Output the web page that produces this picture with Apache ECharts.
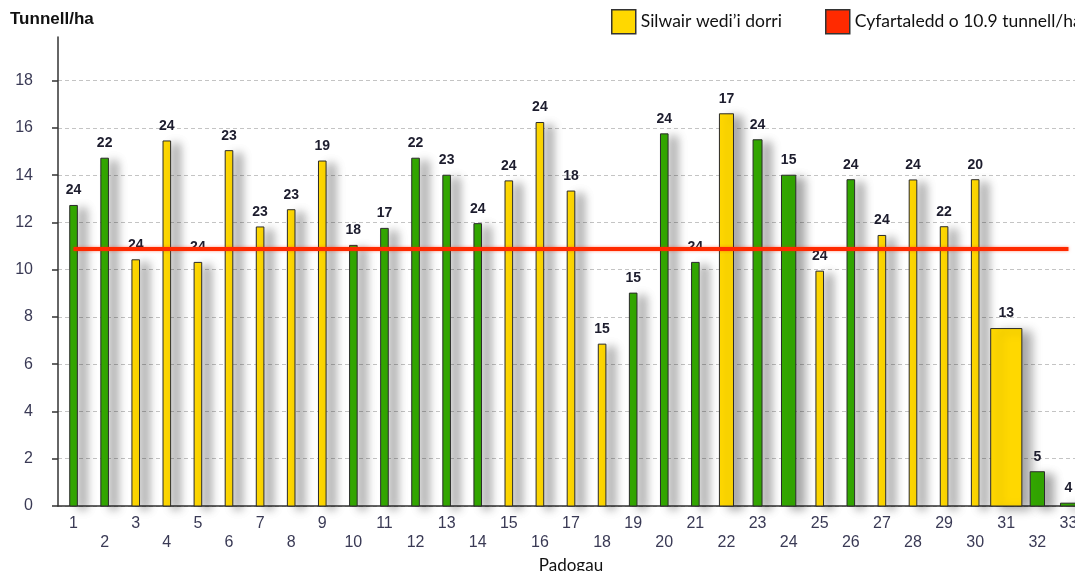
<!DOCTYPE html>
<html>
<head>
<meta charset="utf-8">
<script src="https://cdn.jsdelivr.net/npm/echarts@6/dist/echarts.min.js"></script>
<style>
  html, body { margin: 0; padding: 0; background: #fff; }
  #chart { width: 1075px; height: 571px; }
</style>
</head>
<body>
<div id="chart"></div>
<script>
// ---- Data ----
const paddocks = ['1','2','3','4','5','6','7','8','9','10','11','12','13','14','15','16','17','18','19','20','21','22','23','24','25','26','27','28','29','30','31','32','33'];
const yieldTha = [12.72,14.72,10.42,15.45,10.31,15.04,11.81,12.54,14.60,11.03,11.75,14.72,14.00,11.95,13.76,16.23,13.33,6.85,9.01,15.75,10.31,16.60,15.50,14.00,9.94,13.81,11.45,13.80,11.82,13.81,7.51,1.45,0.12];
const cutForSilage = [0,0,1,1,1,1,1,1,1,0,0,0,0,0,1,1,1,1,0,0,0,1,0,0,1,0,1,1,1,1,1,0,0];
const barLabels = [24,22,24,24,24,23,23,23,19,18,17,22,23,24,24,24,18,15,15,24,24,17,24,15,24,24,24,24,22,20,13,5,4];
const paddockSize = [1,1,1,1,1,1,1,1,1,1,1,1,1,1,1,1,1,1,1,1,1,1.85,1.18,1.88,1,1,1,1,1,1,4.1,1.88,2.1];
const average = 10.9;
const yTicks = [0,2,4,6,8,10,12,14,16,18];

const legendCut = "Silwair wedi\u2019i dorri";
const legendAvg = "Cyfartaledd o 10.9 tunnell/ha";
const yTitle = "Tunnell/ha";
const xTitle = "Padogau";

// ---- Styles ----
const YELLOW = '#ffd800';
const GREEN = '#33a800';
const RED = '#ff2a00';
const FONT = "'Liberation Sans', Arial, sans-serif";
const SIZE_FACTOR = 0.2445;

const chart = echarts.init(document.getElementById('chart'), null, { renderer: 'canvas' });

const barData = yieldTha.map((v, i) => [i, v, paddockSize[i], barLabels[i], cutForSilage[i]]);

function renderBar(params, api) {
  const idx = api.value(0);
  const val = api.value(1);
  const size = api.value(2);
  const lab = api.value(3);
  const cut = api.value(4);
  const top = api.coord([idx, val]);
  const base = api.coord([idx, 0]);
  const band = api.size([1, 0])[0];
  const bw = size * band * SIZE_FACTOR;
  return {
    type: 'group',
    children: [
      {
        type: 'rect',
        shape: { x: top[0] - bw / 2, y: top[1], width: bw, height: base[1] - top[1] },
        style: {
          fill: cut ? YELLOW : GREEN,
          stroke: '#2a2a2a',
          lineWidth: 1,
          shadowColor: 'rgba(0,0,0,0.35)',
          shadowBlur: 10,
          shadowOffsetX: 9,
          shadowOffsetY: 3
        }
      },
      {
        type: 'text',
        style: {
          text: String(lab),
          x: top[0],
          y: top[1] - 15,
          align: 'center',
          verticalAlign: 'middle',
          font: 'bold 14px ' + FONT,
          fill: '#1d1d2e'
        }
      }
    ]
  };
}

const option = {
  backgroundColor: '#ffffff',
  animation: false,
  title: {
    text: yTitle,
    left: 5,
    top: 6,
    textStyle: { fontFamily: FONT, fontWeight: 'bold', fontSize: 17, color: '#111' }
  },
  legend: [
    {
      data: [{ name: legendCut, icon: 'rect', itemStyle: { color: YELLOW, borderColor: '#333', borderWidth: 1.5 } }],
      left: 606, top: 4,
      itemWidth: 24, itemHeight: 24,
      textStyle: { fontFamily: 'Lato, ' + FONT, fontSize: 17.5, color: '#111' },
      selectedMode: false
    },
    {
      data: [{ name: legendAvg, icon: 'rect', itemStyle: { color: RED, borderColor: '#333', borderWidth: 1.5 } }],
      left: 820, top: 4,
      itemWidth: 24, itemHeight: 24,
      textStyle: { fontFamily: 'Lato, ' + FONT, fontSize: 17.5, color: '#111' },
      selectedMode: false
    }
  ],
  grid: { left: 58, top: 37, bottom: 65, width: 1026, containLabel: false, outerBoundsMode: 'none' },
  xAxis: {
    type: 'category',
    data: paddocks,
    boundaryGap: true,
    name: xTitle,
    nameLocation: 'middle',
    nameGap: 50,
    nameTextStyle: { fontFamily: 'Lato, ' + FONT, fontSize: 17, color: '#111' },
    axisLine: { lineStyle: { color: '#333', width: 1.5 } },
    axisTick: { alignWithLabel: true, length: 6, lineStyle: { color: '#333', width: 1.5 } },
    axisLabel: {
      interval: 0,
      margin: 8,
      lineHeight: 19,
      fontFamily: FONT,
      fontSize: 16,
      color: '#3a3a55',
      formatter: (v, i) => (i % 2 === 1 ? '\n' + v : v)
    },
    splitLine: { show: false }
  },
  yAxis: {
    type: 'value',
    min: 0,
    max: 19.85,
    interval: 2,
    axisLine: { show: true, lineStyle: { color: '#333', width: 1.5 } },
    axisTick: { show: true, length: 6, customValues: yTicks, lineStyle: { color: '#333', width: 1.5 } },
    axisLabel: {
      margin: 25,
      fontFamily: FONT,
      fontSize: 16,
      color: '#3a3a55',
      customValues: yTicks
    },
    splitLine: { show: true, lineStyle: { color: '#c4c4c4', type: [4, 3], width: 1 } }
  },
  series: [
    {
      name: legendCut,
      type: 'custom',
      renderItem: renderBar,
      data: barData,
      encode: { x: 0, y: 1 },
      itemStyle: { color: YELLOW },
      clip: false,
      z: 2
    },
    {
      name: legendAvg,
      type: 'line',
      data: [],
      itemStyle: { color: RED },
      z: 5,
      markLine: {
        silent: true,
        symbol: ['none', 'none'],
        label: { show: false },
        lineStyle: { color: RED, width: 4, type: 'solid', shadowColor: 'rgba(255,40,0,0.5)', shadowBlur: 3 },
        data: [[{ coord: [paddocks[0], average] }, { coord: [paddocks[paddocks.length - 1], average] }]]
      }
    }
  ]
};

chart.setOption(option);
</script>
</body>
</html>
